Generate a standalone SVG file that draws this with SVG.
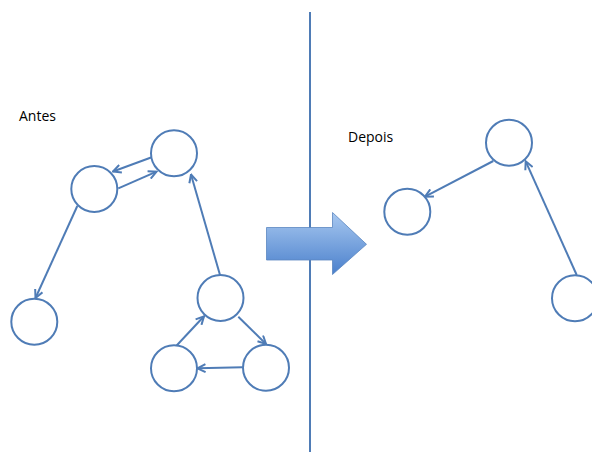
<svg xmlns="http://www.w3.org/2000/svg" width="592" height="459" viewBox="0 0 592 459">
<style>
.n{fill:#fff;stroke:#4f7cb6;stroke-width:2}
.e{fill:none;stroke:#4f7cb6;stroke-width:2;marker-end:url(#ah)}
.t{font-family:"Open Sans","Liberation Sans",sans-serif;font-size:14px;fill:#000}
</style>
<defs>
<marker id="ah" viewBox="0 0 10 10" refX="9" refY="5" markerWidth="5" markerHeight="5" orient="auto" markerUnits="strokeWidth">
<path d="M1,1 L9,5 L1,9" fill="none" stroke="#4f7cb6" stroke-width="2"/>
</marker>
<linearGradient id="g" x1="0" y1="0" x2="0" y2="1">
<stop offset="0" stop-color="#a8c8f0"/>
<stop offset="1" stop-color="#4a80cc"/>
</linearGradient>
</defs>
<rect width="592" height="459" fill="#fff"/>
<line x1="310" y1="12" x2="310" y2="452" stroke="#4f7cb6" stroke-width="2"/>
<path id="bigarrow" d="M266.5,227.5 H332.5 V212.5 L366.5,244.3 L332.5,274.5 V260 H266.5 Z" fill="url(#g)" stroke="#5b86c0" stroke-width="0.8"/>
<text class="t" x="19" y="121">Antes</text>
<text class="t" x="348" y="141.5">Depois</text>
<g id="connectors">
<line class="e" x1="151.7" y1="157.3" x2="113" y2="171.5"/>
<line class="e" x1="118.3" y1="188.3" x2="156.5" y2="171.7"/>
<line class="e" x1="77.3" y1="206" x2="35.5" y2="298"/>
<line class="e" x1="220" y1="275" x2="191" y2="174.5"/>
<line class="e" x1="238.3" y1="316.7" x2="266" y2="344"/>
<line class="e" x1="175" y1="347.3" x2="204" y2="316.3"/>
<line class="e" x1="242.7" y1="367.3" x2="197.5" y2="368.3"/>
<line class="e" x1="493.3" y1="161" x2="425" y2="196.7"/>
<line class="e" x1="576.7" y1="275" x2="525.7" y2="161.3"/>
</g>
<g id="nA"><circle class="n" cx="94.3" cy="189" r="23"/></g>
<g id="nB"><circle class="n" cx="174" cy="153.3" r="23"/></g>
<g id="nC"><circle class="n" cx="34.3" cy="321.7" r="23"/></g>
<g id="nD"><circle class="n" cx="220.5" cy="298" r="23"/></g>
<g id="nE"><circle class="n" cx="174" cy="368.3" r="23"/></g>
<g id="nF"><circle class="n" cx="266" cy="367.7" r="23"/></g>
<g id="nG"><circle class="n" cx="509" cy="142.7" r="23"/></g>
<g id="nH"><circle class="n" cx="407.3" cy="211.7" r="23"/></g>
<g id="nI"><circle class="n" cx="575" cy="298.3" r="23"/></g>
</svg>
